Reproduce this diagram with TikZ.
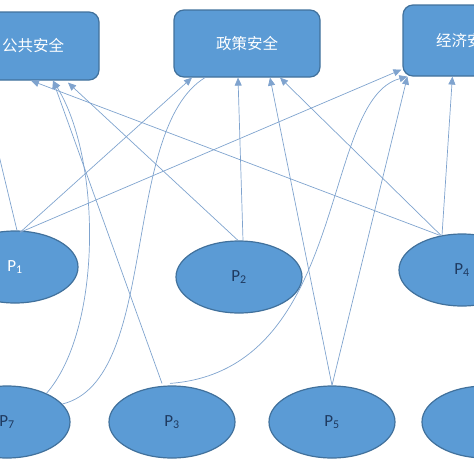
\documentclass[tikz,border=0pt]{standalone}
\usepackage{fontspec}
\setmainfont{Carlito}
\newfontfamily\cjk{Noto Sans CJK SC}
\usetikzlibrary{arrows.meta}
\usetikzlibrary{shapes.geometric}
\definecolor{boxblue}{HTML}{5B9BD5}
\definecolor{boxedge}{HTML}{41719C}
\definecolor{linkblue}{HTML}{7FA3CE}
\definecolor{labeldark}{HTML}{1F3A60}
\tikzstyle{every link} = []
\tikzstyle{link} = [-{Triangle[length=8pt,width=7pt]}, draw=linkblue, line width=0.7pt, every link]

\begin{document}
\begin{tikzpicture}[x=1pt,y=-1pt]
        \tikzstyle{factor} = [draw=boxedge, fill=boxblue, line width=1.2pt, rounded corners=10pt, minimum width=146pt, minimum height=68pt, text=white, font=\cjk\fontsize{15.5}{18}\selectfont]
        \tikzstyle{party} = [ellipse, draw=boxedge, fill=boxblue, line width=1.2pt, minimum width=126pt, minimum height=72pt, text=labeldark, font=\fontsize{17}{20}\selectfont]
        \useasboundingbox (0,0) rectangle (474,474);

        \node[factor, minimum width=132pt] (gonggong) at (33,46) {公共安全};
        \node[factor, minimum height=67pt] (zhengce) at (247,43.5) {政策安全};
        \node[factor, minimum width=128pt, minimum height=71pt] (jingji) at (467,40.5) {经济安全};

        \node[party, text=white] (p1) at (15,267) {P\textsubscript{1}};
        \node[party] (p2) at (239,277) {P\textsubscript{2}};
        \node[party] (p4) at (462,270) {P\textsubscript{4}};
        \node[party] (p7) at (7,422) {P\textsubscript{7}};
        \node[party] (p3) at (172,422) {P\textsubscript{3}};
        \node[party] (p5) at (332,422) {P\textsubscript{5}};
        \node[party] (p6) at (485,422) {};

        \draw[link] ([xshift=2pt]p1.north) -- ([xshift=-52pt]gonggong.south);
        \draw[link] ([xshift=5pt,yshift=-2pt]p1.north) -- ([xshift=-55pt]zhengce.south);
        \draw[link] ([xshift=5pt,yshift=-2pt]p1.north) -- ([xshift=-1pt,yshift=7pt]jingji.south west);

        \draw[link] ([xshift=-1pt]p2.north) -- ([xshift=35pt,yshift=-2pt]gonggong.south);
        \draw[link] ([xshift=4pt]p2.north) -- ([xshift=-9pt]zhengce.south);

        \draw[link] ([xshift=-10pt,yshift=2pt]p3.north) -- ([xshift=20pt]gonggong.south);
        \draw[link] ([xshift=-2pt,yshift=2pt]p3.north) .. controls (350,370) and (320,100) .. ([xshift=5pt]jingji.south west);

        \draw[link] (p5.north) -- ([xshift=23pt]zhengce.south);
        \draw[link] (p5.north) -- ([xshift=5pt]jingji.south west);

        \draw[link] ([xshift=-22pt,yshift=-2pt]p4.north) -- ([xshift=-2pt]gonggong.south);
        \draw[link] ([xshift=-21pt,yshift=-2pt]p4.north) -- ([xshift=33pt]zhengce.south);
        \draw[link] ([xshift=-20pt,yshift=-2pt]p4.north) -- ([xshift=50pt]jingji.south west);

        \draw[link] (p7.36) .. controls (102,330) and (102,160) .. ([xshift=20pt]gonggong.south);
        \draw[link, -] (p7.18) .. controls (160,380) and (120,130) .. ([xshift=-42pt]zhengce.south);
\end{tikzpicture}
\end{document}
